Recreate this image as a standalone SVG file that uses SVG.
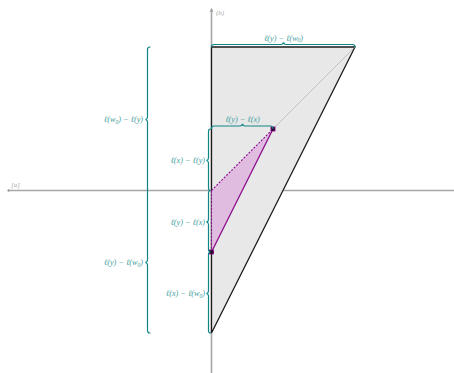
<svg xmlns="http://www.w3.org/2000/svg" width="454" height="373" viewBox="0 0 454 373">
<style>
.axis{stroke:#a6a6a6;stroke-width:1.6;fill:none}
.brace{stroke:#108585;stroke-width:1.2;fill:none;stroke-linecap:round}
.lbl{font-family:"Liberation Serif","DejaVu Serif",serif;font-style:italic;font-size:8.2px;fill:#3f9e9e}
.ax{font-family:"Liberation Serif","DejaVu Serif",serif;font-style:italic;font-size:7px;fill:#aaaaaa}
.sub{font-size:5.5px}
.pt{fill:#2a0a2a;stroke:#800080;stroke-width:0.8}
</style>
<rect width="454" height="373" fill="#ffffff"/>
<g id="axes">
<line class="axis" x1="8" y1="190.5" x2="454" y2="190.5"/>
<line class="axis" x1="211.5" y1="9" x2="211.5" y2="373"/>
<path d="M209.6 12 L211.5 7.5 L213.4 12 Z" fill="#a6a6a6"/>
<circle cx="8.5" cy="190.5" r="1.1" fill="#888"/>
<text class="ax" x="216" y="15">(b)</text>
<text class="ax" x="11" y="187">[a]</text>
</g>
<g id="big-triangle">
<polygon points="211.5,47 355,47 211.5,333" fill="#e8e8e8" stroke="none"/>
<polyline points="211.5,333 211.5,47 355,47 211.5,333" fill="none" stroke="#1a1a1a" stroke-width="1.3"/>
<line x1="273" y1="129" x2="355" y2="47" stroke="#aaaaaa" stroke-width="0.6"/>
</g>
<g id="small-triangle">
<polygon points="211.5,190.5 273,129 211.5,252" fill="#e0bde0" stroke="none"/>
<line x1="211.5" y1="190.5" x2="273" y2="129" stroke="#8a0a8a" stroke-width="1.1" stroke-dasharray="2,1.5"/>
<line x1="211.5" y1="190.5" x2="211.5" y2="252" stroke="#8a0a8a" stroke-width="1.1" stroke-dasharray="2,1.5"/>
<line x1="273" y1="129" x2="211.5" y2="252" stroke="#8a0a8a" stroke-width="1.2"/>
</g>
<g id="point-x"><rect class="pt" x="271" y="127" width="4" height="4"/></g>
<g id="point-w"><rect class="pt" x="209.5" y="250" width="4" height="4"/></g>
<g id="connectors">
<path class="brace" d="M211.5 47 Q211.5 44.5 214 44.5 L281 44.5 Q283 44.5 283.5 42.5 Q284 44.5 286 44.5 L352.5 44.5 Q355 44.5 355 47"/>
<path class="brace" d="M211.5 128.5 Q211.5 126 214 126 L240 126 Q242 126 242.5 124 Q243 126 245 126 L270.5 126 Q273 126 273 128.5"/>
<path class="brace" d="M150 47 Q147.5 47 147.5 49.5 L147.5 117 Q147.5 119 145.5 119.5 Q147.5 120 147.5 122 L147.5 260 Q147.5 262 145.5 262.5 Q147.5 263 147.5 265 L147.5 330.5 Q147.5 333 150 333"/>
<path class="brace" d="M210.5 129 Q208.5 129 208.5 131.5 L208.5 158 Q208.5 160 206.5 160.5 Q208.5 161 208.5 163 L208.5 188 Q208.5 190.5 210.5 190.5 Q208.5 190.5 208.5 193 L208.5 219.5 Q208.5 221.5 206.5 222 Q208.5 222.5 208.5 224.5 L208.5 249.5 Q208.5 252 210.5 252 Q208.5 252 208.5 254.5 L208.5 291 Q208.5 293 206.5 293.5 Q208.5 294 208.5 296 L208.5 330.5 Q208.5 333 210.5 333"/>
</g>
<g id="labels">
<text class="lbl" x="283.5" y="40.5" text-anchor="middle">ℓ(y) − ℓ(w<tspan class="sub" dy="1.5">0</tspan><tspan dy="-1.5">)</tspan></text>
<text class="lbl" x="242.5" y="122" text-anchor="middle">ℓ(y) − ℓ(x)</text>
<text class="lbl" x="143" y="122" text-anchor="end">ℓ(w<tspan class="sub" dy="1.5">0</tspan><tspan dy="-1.5">) − ℓ(y)</tspan></text>
<text class="lbl" x="205" y="163" text-anchor="end">ℓ(x) − ℓ(y)</text>
<text class="lbl" x="205" y="224.5" text-anchor="end">ℓ(y) − ℓ(x)</text>
<text class="lbl" x="143" y="265" text-anchor="end">ℓ(y) − ℓ(w<tspan class="sub" dy="1.5">0</tspan><tspan dy="-1.5">)</tspan></text>
<text class="lbl" x="205" y="296" text-anchor="end">ℓ(x) − ℓ(w<tspan class="sub" dy="1.5">0</tspan><tspan dy="-1.5">)</tspan></text>
</g>
</svg>
